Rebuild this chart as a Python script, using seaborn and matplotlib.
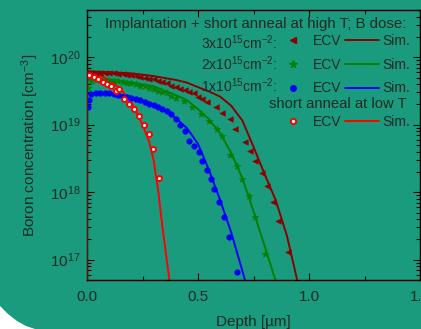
import numpy as np
import pandas as pd
import matplotlib
matplotlib.use("Agg")
import matplotlib.pyplot as plt
import seaborn as sns
from matplotlib.lines import Line2D
from matplotlib.patches import Polygon
from matplotlib.ticker import MultipleLocator, LogLocator, NullFormatter

# ECV profiles, implantation + short anneal at high T
depth3 = [0.005, 0.02, 0.04, 0.06, 0.08, 0.10, 0.12, 0.14, 0.16, 0.18, 0.20, 0.22, 0.24, 0.26,
          0.28, 0.30, 0.32, 0.34, 0.36, 0.38, 0.40, 0.42, 0.44, 0.46, 0.48, 0.50, 0.52,
          0.542, 0.579, 0.609, 0.646, 0.668, 0.713, 0.735, 0.758, 0.787, 0.810, 0.839, 0.862, 0.906]
conc3 = [5.25e19, 5.75e19, 5.9e19, 5.9e19, 5.9e19, 5.75e19, 5.75e19, 5.6e19, 5.6e19, 5.5e19, 5.4e19,
         5.25e19, 5.1e19, 5.0e19, 4.8e19, 4.7e19, 4.5e19, 4.25e19, 4.1e19, 3.8e19, 3.6e19, 3.4e19,
         3.3e19, 3.1e19, 2.9e19, 2.6e19, 2.4e19,
         2.15e19, 1.8e19, 1.5e19, 1.2e19, 8.5e18, 5.5e18, 4.1e18, 2.9e18, 1.95e18, 1.23e18, 7.1e17,
         3.7e17, 1.3e17]

depth2 = [0.005, 0.02, 0.04, 0.06, 0.08, 0.10, 0.12, 0.14, 0.16, 0.18, 0.20, 0.22, 0.24, 0.26, 0.28,
          0.30, 0.32, 0.34, 0.36, 0.38, 0.40,
          0.4375, 0.475, 0.512, 0.549, 0.586, 0.609, 0.646, 0.675, 0.698, 0.728, 0.758, 0.802]
conc2 = [3.5e19, 4.4e19, 4.6e19, 4.6e19, 4.6e19, 4.5e19, 4.5e19, 4.4e19, 4.25e19, 4.2e19, 4.1e19,
         4.0e19, 3.8e19, 3.7e19, 3.55e19, 3.4e19, 3.2e19, 3.1e19, 2.9e19, 2.7e19, 2.5e19,
         2.25e19, 1.8e19, 1.45e19, 1.15e19, 8.5e18, 6.8e18, 3.6e18, 2.45e18, 1.55e18, 8.9e17,
         4.3e17, 1.2e17]

depth1 = [0.003, 0.008, 0.02, 0.04, 0.06, 0.08, 0.10, 0.12, 0.14, 0.16, 0.18, 0.20, 0.22, 0.24, 0.26,
          0.28, 0.30, 0.32, 0.34, 0.36, 0.38, 0.40, 0.42, 0.44,
          0.46, 0.482, 0.504, 0.519, 0.542, 0.557, 0.571, 0.594, 0.616, 0.638, 0.675]
conc1 = [1.8e19, 2.3e19, 2.8e19, 2.95e19, 2.95e19, 2.95e19, 2.9e19, 2.8e19, 2.75e19, 2.6e19, 2.55e19,
         2.5e19, 2.4e19, 2.3e19, 2.15e19, 2.05e19, 1.95e19, 1.8e19, 1.7e19, 1.6e19, 1.45e19,
         1.2e19, 1.0e19, 8.0e18,
         5.8e18, 4.9e18, 3.9e18, 2.9e18, 2.1e18, 1.55e18, 1.1e18, 7.1e17, 4.3e17, 2.2e17, 6.5e16]

# short anneal at low T
depth_low = [0.01, 0.03, 0.05, 0.07, 0.092, 0.107, 0.129, 0.144, 0.167, 0.189, 0.211, 0.234,
             0.256, 0.278, 0.298, 0.323]
conc_low = [5.5e19, 5.1e19, 4.7e19, 4.25e19, 4.0e19, 3.8e19, 3.15e19, 3.4e19, 2.4e19, 2.0e19,
            1.7e19, 1.35e19, 1.0e19, 7.2e18, 4.3e18, 1.6e18]

# simulations
sim_depth3 = [0, 0, 0.1, 0.2, 0.3, 0.4, 0.45, 0.5, 0.55, 0.6, 0.65, 0.7, 0.75, 0.8, 0.85, 0.9, 0.95]
sim_conc3 = [1e16, 6.2e19, 6.0e19, 5.75e19, 5.25e19, 4.6e19, 4.2e19, 3.6e19, 3.1e19, 2.6e19, 1.9e19,
             1.15e19, 4.7e18, 1.85e18, 7.6e17, 2.3e17, 4.5e16]
sim_depth2 = [0, 0.1, 0.2, 0.3, 0.4, 0.45, 0.5, 0.55, 0.6, 0.65, 0.7, 0.75, 0.8, 0.855]
sim_conc2 = [4.8e19, 4.7e19, 4.25e19, 3.7e19, 2.75e19, 2.3e19, 1.7e19, 1.2e19, 7.4e18, 3.8e18,
             1.6e18, 5.2e17, 1.6e17, 4.3e16]
sim_depth1 = [0, 0.1, 0.2, 0.3, 0.35, 0.4, 0.45, 0.5, 0.55, 0.6, 0.65, 0.7, 0.715]
sim_conc1 = [2.9e19, 2.95e19, 2.6e19, 2.0e19, 1.6e19, 1.25e19, 8.9e18, 5.2e18, 2.1e18, 7.6e17,
             2.5e17, 6.8e16, 4.5e16]
sim_depth_low = [0, 0.05, 0.1, 0.15, 0.2, 0.25, 0.28, 0.3, 0.32, 0.34, 0.375]
sim_conc_low = [6.2e19, 5.6e19, 4.6e19, 3.4e19, 2.15e19, 1.0e19, 5.6e18, 3.0e18, 1.1e18, 3.0e17, 4e16]

dose_labels = ["3x10$^{15}$cm$^{-2}$:", "2x10$^{15}$cm$^{-2}$:", "1x10$^{15}$cm$^{-2}$:"]
title_high = "Implantation + short anneal at high T; B dose:"
title_low = "short anneal at low T"

bg = "#1b9b7d"
txt = "#1e2a26"

sns.set_style("ticks")
plt.rcParams["font.family"] = ["Liberation Sans", "DejaVu Sans"]
plt.rcParams["mathtext.default"] = "regular"

fig = plt.figure(figsize=(4.21, 3.29), dpi=100, facecolor=bg)
ax = fig.add_axes([87 / 421, 1 - 280 / 329, 333 / 421, 270 / 329])
ax.set_facecolor(bg)

# corner of the slide background
fig.patches.append(Polygon([(0, 1 - 306 / 329), (8 / 421, 1 - 314 / 329), (17 / 421, 1 - 321 / 329),
                            (26 / 421, 1 - 326 / 329), (35 / 421, 0), (0, 0)],
                           closed=True, transform=fig.transFigure, facecolor="white",
                           edgecolor="none", zorder=0))

series = [
    (depth3, conc3, sim_depth3, sim_conc3, "#8b0000", "<"),
    (depth2, conc2, sim_depth2, sim_conc2, "#008000", "*"),
    (depth1, conc1, sim_depth1, sim_conc1, "#0000ff", "o"),
]
handles_ecv = []
handles_sim = []
for d, c, sd, sc, col, mk in series:
    sns.scatterplot(x=d, y=c, ax=ax, marker=mk, color=col, edgecolor=col, s=17 if mk != "*" else 28,
                    linewidth=0.3, zorder=3)
    sns.lineplot(x=sd, y=sc, ax=ax, color=col, lw=1.4, estimator=None, sort=False, zorder=2)
    handles_ecv.append(Line2D([], [], ls="none", marker=mk, color=col, ms=4 if mk != "*" else 5.5))
    handles_sim.append(Line2D([], [], color=col, lw=1.4))

sns.lineplot(x=sim_depth_low, y=sim_conc_low, ax=ax, color="#ff0000", lw=1.4, estimator=None,
             sort=False, zorder=2)
sns.scatterplot(x=depth_low, y=conc_low, ax=ax, marker="o", color="white", edgecolor="#ff0000",
                s=13, linewidth=1.4, zorder=4)
# dark red sim drawn on top to cover the left axis
ax.lines[0].set_zorder(5)

ax.set_yscale("log")
ax.set_xlim(0, 1.5)
ax.set_ylim(5e16, 5e20)
ax.xaxis.set_minor_locator(MultipleLocator(0.25))
ax.set_xticks([0, 0.5, 1.0, 1.5])
ax.set_xticklabels(["0.0", "0.5", "1.0", "1.5"])
ax.yaxis.set_major_locator(LogLocator(base=10, numticks=10))
ax.yaxis.set_minor_locator(LogLocator(base=10, subs=np.arange(2, 10), numticks=20))
ax.yaxis.set_minor_formatter(NullFormatter())
ax.tick_params(which="both", direction="in", top=True, right=True, colors="black",
               labelcolor=txt, labelsize=11)
ax.tick_params(which="major", length=5, width=0.8)
ax.tick_params(which="minor", length=3, width=0.8)
ax.tick_params(axis="x", pad=7)
ax.tick_params(axis="y", pad=5)
for sp in ax.spines.values():
    sp.set_color("black")
    sp.set_linewidth(1.0)

ax.set_xlabel("Depth [µm]", fontsize=11, color=txt, labelpad=8)
ax.set_ylabel("Boron concentration [cm$^{-3}$]", fontsize=11, color=txt, labelpad=6)

fig.text(406 / 421, 1 - 24 / 329, title_high, ha="right", va="center", fontsize=10.8, color=txt)
for i, lab in enumerate(dose_labels):
    fig.text(277 / 421, 1 - [43, 64, 86][i] / 329, lab, ha="right", va="center", fontsize=10, color=txt)
fig.text(407 / 421, 1 - 104 / 329, title_low, ha="right", va="center", fontsize=10.6, color=txt)

leg_kw = dict(ncol=2, frameon=False, fontsize=10, handlelength=2.4, handletextpad=0.25,
              columnspacing=0.3, borderpad=0, borderaxespad=0, labelcolor=txt,
              loc="upper left", bbox_transform=fig.transFigure, labelspacing=0.7)
leg1 = ax.legend(handles=handles_ecv + handles_sim, labels=["ECV"] * 3 + ["Sim."] * 3,
                 bbox_to_anchor=(276 / 421, 1 - 34 / 329), **leg_kw)
ax.add_artist(leg1)
h_low_ecv = Line2D([], [], ls="none", marker="o", mfc="white", mec="#ff0000", mew=1.4, ms=3.8)
h_low_sim = Line2D([], [], color="#ff0000", lw=1.4)
ax.legend(handles=[h_low_ecv, h_low_sim], labels=["ECV", "Sim."],
          bbox_to_anchor=(276 / 421, 1 - 115 / 329), **leg_kw)

fig.savefig("out.png", dpi=100, facecolor=bg)
